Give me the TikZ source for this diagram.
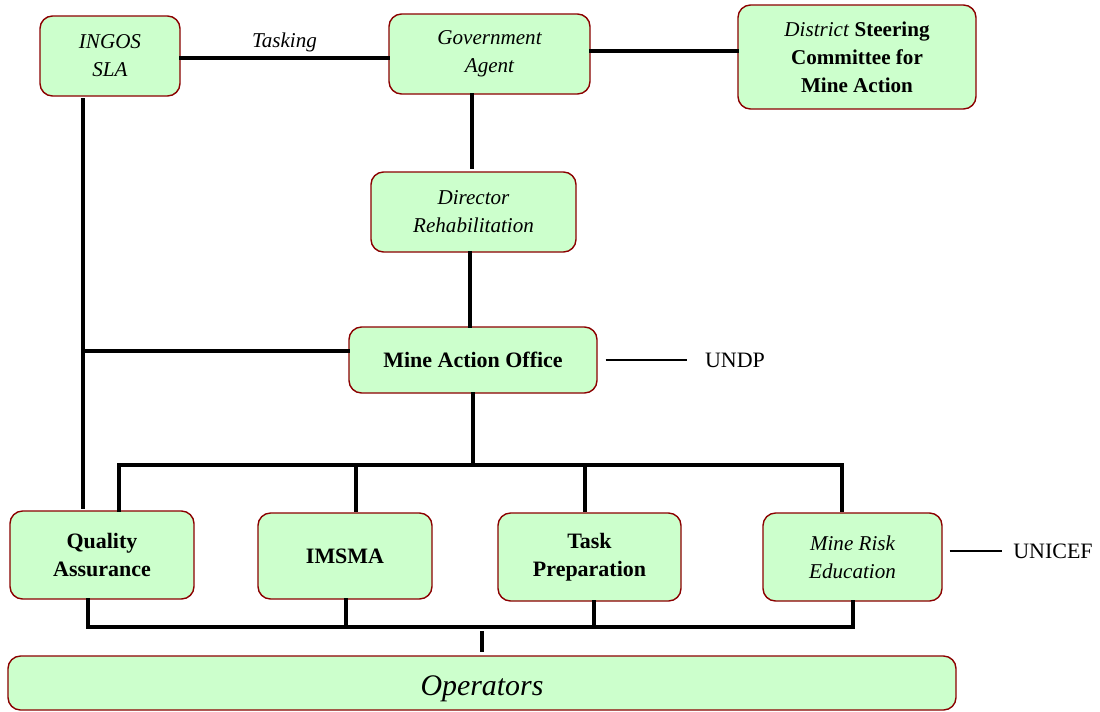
\documentclass[tikz,border=0pt]{standalone}
\usepackage{fontspec}
\setmainfont{Liberation Serif}
\usetikzlibrary{calc}
\definecolor{boxfill}{HTML}{CCFFCC}
\definecolor{boxline}{HTML}{8B0000}
\tikzset{
  unit/.style={draw=boxline, fill=boxfill, line width=0.8pt, rounded corners=0.25cm,
    align=center, inner sep=2pt, font=\fontsize{12}{16}\selectfont},
  boldunit/.style={unit, font=\fontsize{12.5}{16}\selectfont\bfseries},
  link/.style={line width=1.9pt, line cap=rect},
  thinlink/.style={line width=0.6pt},
}

\begin{document}
\begin{tikzpicture}
			%%%%% START %%%%%
			\useasboundingbox (0,0) rectangle (22,-14.22);
			
			\node[unit, minimum width=2.8cm, minimum height=1.6cm] (ingos) at (2.2,-1.12) {\itshape INGOS\\\itshape SLA};
			\node[unit, minimum width=4.02cm, minimum height=1.6cm] (gov) at (9.79,-1.08) {\itshape Government\\\itshape Agent};
			\node[unit, minimum width=4.76cm, minimum height=2.08cm] (dsc) at (17.14,-1.14) {\textit{District} \textbf{Steering}\\\bfseries Committee for\\\bfseries Mine Action};
			\node[unit, minimum width=4.1cm, minimum height=1.6cm] (dir) at (9.47,-4.24) {\itshape Director\\\itshape Rehabilitation};
			\node[boldunit, minimum width=4.96cm, minimum height=1.32cm] (mao) at (9.46,-7.2) {Mine Action Office};
			
			\node[boldunit, minimum width=3.68cm, minimum height=1.76cm] (qa) at (2.04,-11.1) {Quality\\Assurance};
			\node[boldunit, minimum width=3.48cm, minimum height=1.72cm] (imsma) at (6.9,-11.12) {IMSMA};
			\node[boldunit, minimum width=3.66cm, minimum height=1.76cm] (task) at (11.79,-11.14) {Task\\Preparation};
			\node[unit, minimum width=3.58cm, minimum height=1.76cm] (mre) at (17.05,-11.14) {\itshape Mine Risk\\\itshape Education};
			\node[unit, minimum width=18.96cm, minimum height=1.08cm, font=\fontsize{17}{20}\selectfont\itshape,
				text height=0.6cm, text depth=0.1cm] (ops) at (9.64,-13.66) {Operators};
			
			\node[font=\fontsize{12.5}{15}\selectfont] (undp) at (14.7,-7.2) {UNDP};
			\node[font=\fontsize{12.5}{15}\selectfont] (unicef) at (21.06,-11.02) {UNICEF};
			
			% top row
			\draw[link] ([yshift=-0.04cm]ingos.east) -- ([yshift=-0.04cm]ingos.east -| gov.west)
				node[midway, above=-1pt, font=\fontsize{12}{14}\selectfont\itshape] (task label) {Tasking};
			\draw[link] ([yshift=0.06cm]gov.east) -- ([yshift=0.06cm]gov.east -| dsc.west);
			
			% chain down the middle
			\draw[link] ([xshift=-0.35cm]gov.south) -- ([xshift=-0.35cm,yshift=0.08cm]gov.south |- dir.north);
			\draw[link] ([xshift=-0.07cm]dir.south) -- ([xshift=-0.07cm]dir.south |- mao.north);
			
			% left spine
			\coordinate (spineTop) at (1.66,-2.0);
			\coordinate (spineBot) at (1.66,-10.14);
			\draw[link] (spineTop) -- (spineBot);
			\draw[link] ([yshift=0.18cm]mao.west) -- ([yshift=0.18cm]mao.west -| spineTop);
			
			\draw[thinlink] ([xshift=0.16cm]mao.east) -- ([xshift=-0.24cm]undp.west);
			\draw[thinlink] ([xshift=0.14cm]mre.east |- unicef) -- ([xshift=-0.1cm]unicef.west);
			
			% upper bus
			\coordinate (busL) at (2.38,-9.3);
			\coordinate (busR) at (16.84,-9.3);
			\draw[link] (mao.south) -- (mao.south |- busL);
			\draw[link] (busL) -- (busR);
			\draw[link] (busL) -- (busL |- qa.north);
			\draw[link] (7.12,-9.3) -- ([yshift=0.04cm]7.12,0 |- imsma.north);
			\draw[link] (11.7,-9.3) -- ([yshift=0.04cm]11.7,0 |- task.north);
			\draw[link] (busR) -- ([yshift=0.04cm]busR |- mre.north);
			
			% lower bus
			\coordinate (lowL) at (1.76,-12.54);
			\coordinate (lowR) at (17.06,-12.54);
			\draw[link] (lowL |- qa.south) -- (lowL) -- (lowR) -- (lowR |- mre.south);
			\draw[link] (6.92,0 |- imsma.south) -- (6.92,-12.54);
			\draw[link] (11.88,0 |- task.south) -- (11.88,-12.54);
			\draw[link] (9.64,-12.66) -- ([yshift=0.1cm]ops.north);
			
			%%%%% END %%%%%
\end{tikzpicture}
\end{document}
